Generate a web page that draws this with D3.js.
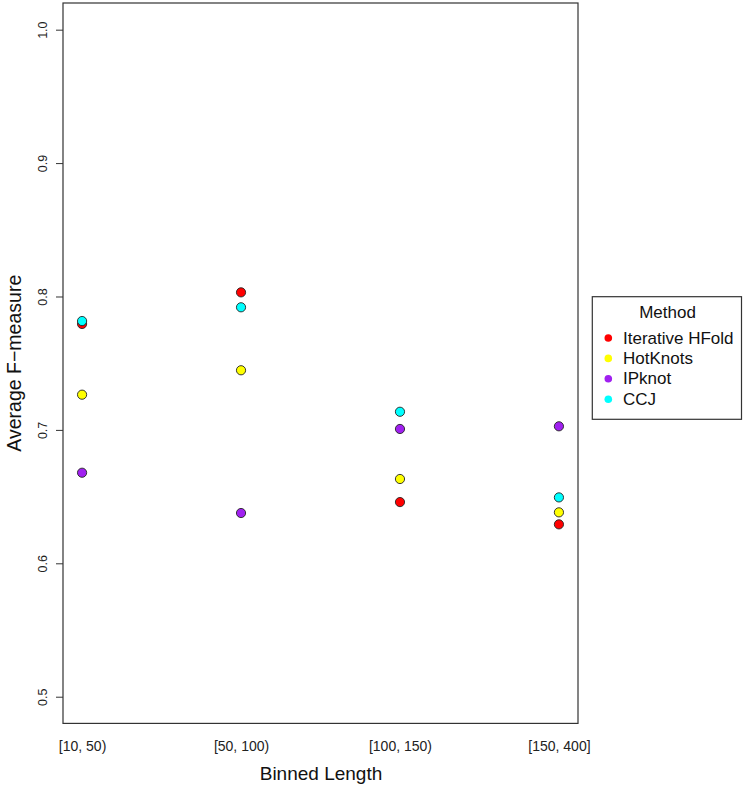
<!DOCTYPE html>
<html><head><meta charset="utf-8">
<script src="https://cdn.jsdelivr.net/npm/d3@7"></script>
<style>body{margin:0;background:#fff}svg{display:block;font-family:"Liberation Sans",Arial,Helvetica,sans-serif}</style>
</head><body>
<svg id="c" width="745" height="786"></svg>
<script>
const categories = ["[10, 50)", "[50, 100)", "[100, 150)", "[150, 400]"];
const methods = ["Iterative HFold", "HotKnots", "IPknot", "CCJ"];
const colors = ["#FF0000", "#FFFF00", "#A020F0", "#00FFFF"];
const iterativeHFold = [0.7794, 0.8031, 0.6459, 0.6292];
const hotKnots = [0.7264, 0.7447, 0.6632, 0.6382];
const ipknot = [0.6679, 0.6377, 0.7007, 0.7027];
const ccj = [0.7816, 0.7919, 0.7136, 0.6494];
const yTicks = [0.5, 0.6, 0.7, 0.8, 0.9, 1.0];
const series = [iterativeHFold, hotKnots, ipknot, ccj];

const svg = d3.select("#c");
const L = 63, R = 578, T = 3, B = 723.4;
const x = d3.scaleLinear().domain([0.88, 4.12]).range([L, R]);
const y = d3.scaleLinear().domain([0.48, 1.02]).range([B, T]);

// frame
svg.append("rect").attr("x", L).attr("y", T).attr("width", R - L).attr("height", B - T)
  .attr("fill", "none").attr("stroke", "#333").attr("stroke-width", 1.2);

// y axis
const yAxis = d3.axisLeft(y).tickValues(yTicks).tickFormat(d3.format(".1f")).tickSize(7).tickPadding(0);
const gy = svg.append("g").attr("transform", `translate(${L},0)`).call(yAxis);
gy.select(".domain").remove();
gy.selectAll(".tick line").attr("stroke", "#333");
gy.selectAll(".tick text").attr("x", 0).attr("y", 0).attr("dy", null)
  .attr("text-anchor", "middle")
  .attr("transform", "translate(-20,0) rotate(-90)")
  .attr("dominant-baseline", "central")
  .attr("font-size", 12.5).attr("fill", "#222")
  .attr("font-family", "Liberation Sans, Arial, sans-serif");

// x axis labels
const xAxis = d3.axisBottom(x).tickValues([1, 2, 3, 4]).tickFormat((d, i) => categories[i]).tickSize(0).tickPadding(0);
const gx = svg.append("g").attr("transform", `translate(0,${B})`).call(xAxis);
gx.select(".domain").remove();
gx.selectAll(".tick text").attr("y", 23).attr("dy", null).attr("dominant-baseline", "central")
  .attr("font-size", 14).attr("fill", "#222").attr("font-family", "Liberation Sans, Arial, sans-serif");

// axis titles
svg.append("text").attr("x", 321).attr("y", 773).attr("text-anchor", "middle")
  .attr("dominant-baseline", "central").attr("font-size", 19).attr("fill", "#111").text("Binned Length");
svg.append("text").attr("transform", `translate(14,${(T + B) / 2}) rotate(-90)`).attr("text-anchor", "middle")
  .attr("dominant-baseline", "central").attr("font-size", 19.5).attr("fill", "#111").text("Average F\u2212measure");

// points
series.forEach((vals, si) => {
  svg.append("g").selectAll("circle").data(vals).join("circle")
    .attr("cx", (d, i) => x(i + 1)).attr("cy", d => y(d)).attr("r", 4.6)
    .attr("fill", colors[si]).attr("stroke", "#222").attr("stroke-width", 0.9);
});

// legend
const lg = svg.append("g");
lg.append("rect").attr("x", 592.3).attr("y", 296.7).attr("width", 149.2).attr("height", 122.6)
  .attr("fill", "#fff").attr("stroke", "#333").attr("stroke-width", 1.2);
lg.append("text").attr("x", 667.5).attr("y", 312).attr("text-anchor", "middle")
  .attr("dominant-baseline", "central").attr("font-size", 17).attr("fill", "#111").text("Method");
methods.forEach((m, i) => {
  const yy = 338 + i * 20.4;
  lg.append("circle").attr("cx", 608.3).attr("cy", yy).attr("r", 3.8).attr("fill", colors[i]);
  lg.append("text").attr("x", 623).attr("y", yy).attr("dominant-baseline", "central")
    .attr("font-size", 17).attr("fill", "#111").text(m);
});
</script>
</body></html>
